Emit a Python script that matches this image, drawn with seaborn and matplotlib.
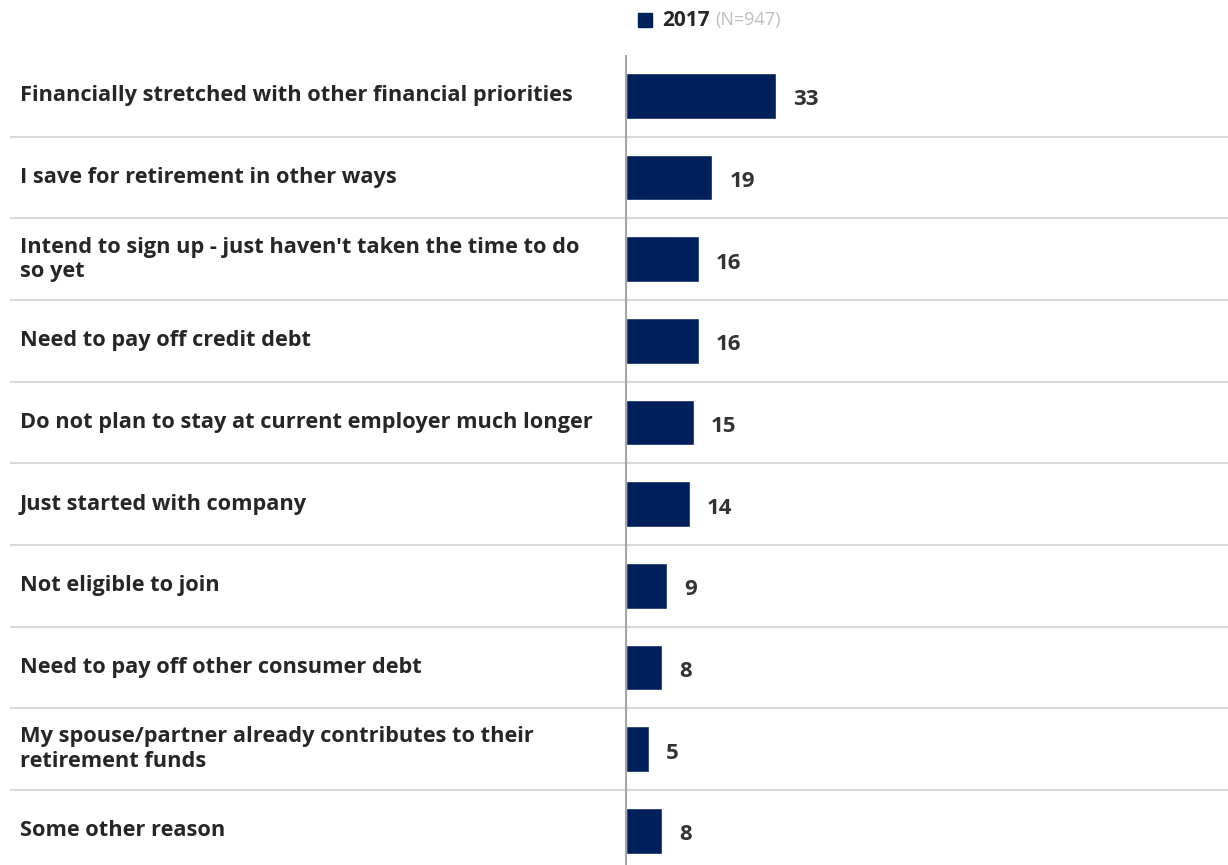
import matplotlib
matplotlib.use("Agg")
import matplotlib.pyplot as plt
import matplotlib.transforms as mtransforms
import seaborn as sns
import pandas as pd

categories = [
    "Financially stretched with other financial priorities",
    "I save for retirement in other ways",
    "Intend to sign up - just haven't taken the time to do\nso yet",
    "Need to pay off credit debt",
    "Do not plan to stay at current employer much longer",
    "Just started with company",
    "Not eligible to join",
    "Need to pay off other consumer debt",
    "My spouse/partner already contributes to their\nretirement funds",
    "Some other reason",
]
values = [33, 19, 16, 16, 15, 14, 9, 8, 5, 8]
series_name = "2017"
sample_note = "(N=947)"

sns.set_theme(style="white")
plt.rcParams['font.family'] = ['Open Sans', 'DejaVu Sans']

W, H = 1228, 865
fig = plt.figure(figsize=(W / 100, H / 100), dpi=100)
ax_left, ax_right = 10, 1228
ax_top, ax_bot = 55, 865
ax = fig.add_axes([ax_left / W, 1 - ax_bot / H, (ax_right - ax_left) / W, (ax_bot - ax_top) / H])

bar_color = "#00205b"
df = pd.DataFrame({"cat": categories, "val": values})
sns.barplot(data=df, y="cat", x="val", orient="h", color=bar_color, width=0.56,
            saturation=1, ax=ax)

px_per_unit = 150 / 33
ax.set_xlim(-(626 - ax_left) / px_per_unit, (ax_right - 626) / px_per_unit)
ax.set_ylim(9.42, -0.5)

for s in ax.spines.values():
    s.set_visible(False)
ax.set_xticks([])
ax.set_yticks([])
ax.set_xlabel("")
ax.set_ylabel("")

# separators
for i in range(len(categories) - 1):
    ax.axhline(i + 0.5, color="#d9d9d9", lw=1.5, zorder=0)
ax.axvline(0, color="#a6a6a6", lw=1.5, zorder=3)

trans = mtransforms.blended_transform_factory(fig.transFigure, ax.transData)
for i, (c, v) in enumerate(zip(categories, values)):
    ax.text(20 / W, i, c, transform=trans, ha="left", va="center",
            fontsize=15.7, fontweight="bold", color="#262626", linespacing=1.2)
    ax.text(v + 17 / px_per_unit, i + 0.05, f"{v}", ha="left", va="center",
            fontsize=16, fontweight="bold", color="#333333")

# legend
fig.patches.append(plt.Rectangle((638 / W, 1 - 27 / H), 14 / W, 14 / H,
                                 transform=fig.transFigure, color=bar_color))
t1 = fig.text(662 / W, 1 - 20 / H, series_name, ha="left", va="center",
              fontsize=15, fontweight="bold", color="#262626")
fig.canvas.draw()
bb = t1.get_window_extent()
fig.text((bb.x1 + 6) / W, 1 - 20 / H, sample_note, ha="left", va="center",
         fontsize=13, color="#bfbfbf")

fig.savefig("out.png", dpi=100)
